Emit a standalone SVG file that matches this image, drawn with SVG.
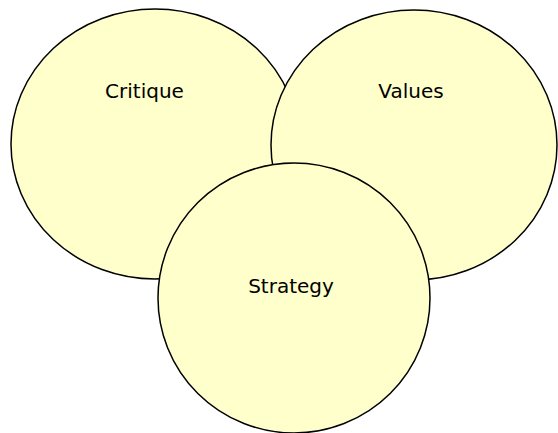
<svg xmlns="http://www.w3.org/2000/svg" width="558" height="433" viewBox="0 0 558 433">
<style>
.c{fill:#ffffcc;stroke:#000;stroke-width:1.5}
.t{font-family:"DejaVu Sans",Verdana,sans-serif;font-size:20px;fill:#000;text-anchor:middle}
</style>
<rect width="558" height="433" fill="#fff"/>
<g id="critique"><ellipse class="c" cx="155" cy="144" rx="144" ry="135"/><text class="t" x="144.5" y="98">Critique</text></g>
<g id="values"><ellipse class="c" cx="414" cy="145" rx="143" ry="135"/><text class="t" x="411" y="98">Values</text></g>
<g id="strategy"><ellipse class="c" cx="294" cy="298" rx="136" ry="135"/><text class="t" x="291" y="293">Strategy</text></g>
<g id="connectors"/>
</svg>
